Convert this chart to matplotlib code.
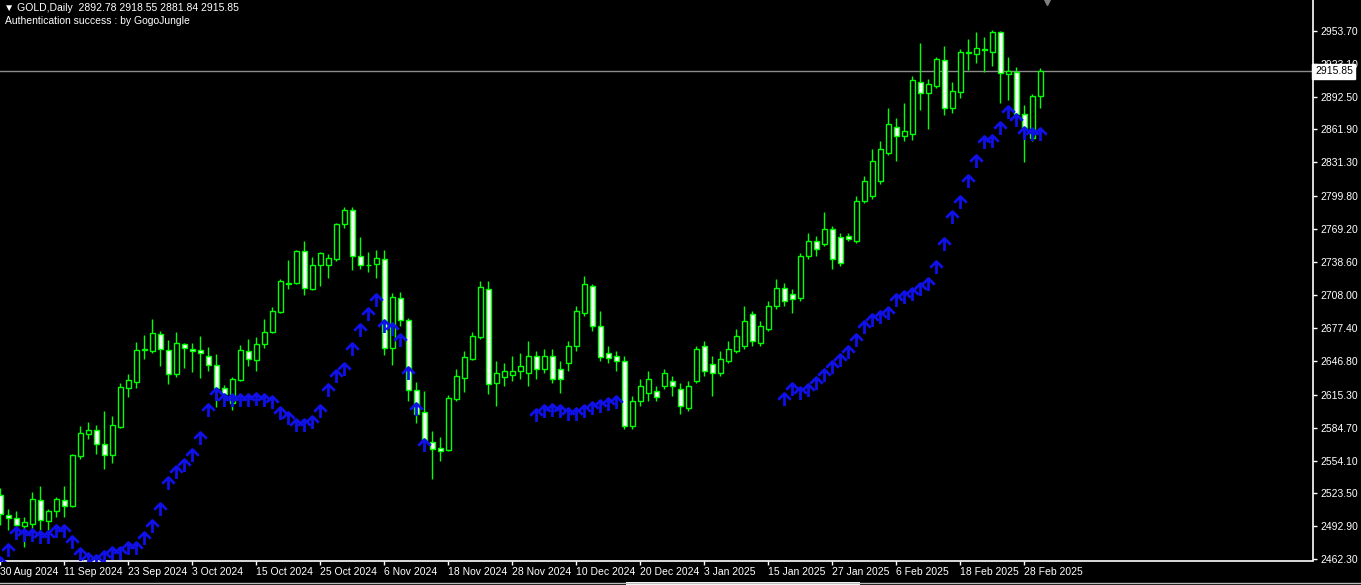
import matplotlib
matplotlib.use("Agg")
import matplotlib.pyplot as plt
import numpy as np
from matplotlib.path import Path
from matplotlib.lines import Line2D
from matplotlib.patches import Rectangle

nan = np.nan

# GOLD daily bars, 30 Aug 2024 .. 3 Mar 2025
opens = [
    2521.7, 2503.2, 2500.4, 2493.2, 2494.8, 2517.1, 2497.6, 2506.8, 2517.1, 2511.5,
    2557.9, 2579.2, 2582.9, 2569.9, 2559.7, 2585.7, 2621.8, 2627.4, 2656.5, 2656.1,
    2671.9, 2657.1, 2634.8, 2662.6, 2658.0, 2657.1, 2651.5, 2643.2, 2621.8, 2607.9,
    2629.3, 2656.1, 2647.8, 2662.6, 2673.8, 2692.3, 2718.5, 2719.2, 2748.9, 2713.6,
    2735.9, 2735.9, 2741.5, 2773.9, 2786.9, 2744.2, 2735.5, 2736.8, 2741.5, 2658.9,
    2705.3, 2684.9, 2620.0, 2599.6, 2571.8, 2566.2, 2564.3, 2611.6, 2631.1, 2648.7,
    2669.1, 2713.6, 2626.5, 2632.0, 2633.9, 2637.6, 2635.7, 2651.5, 2639.5, 2651.5,
    2639.5, 2645.0, 2660.8, 2691.4, 2716.4, 2679.3, 2654.3, 2651.5, 2646.9, 2586.6,
    2609.8, 2617.2, 2619.1, 2623.7, 2628.3, 2620.9, 2603.3, 2628.3, 2660.8, 2644.1,
    2635.7, 2646.9, 2656.2, 2660.8, 2690.5, 2663.6, 2676.5, 2697.9, 2714.6, 2709.0,
    2705.3, 2744.2, 2758.2, 2755.4, 2769.3, 2761.9, 2762.8, 2758.2, 2795.2, 2799.9,
    2813.8, 2839.7, 2863.9, 2855.5, 2857.4, 2905.6, 2895.4, 2901.9, 2926.0, 2881.5,
    2896.3, 2934.3, 2931.6, 2937.1, 2933.4, 2952.0, 2913.0, 2914.9, 2875.9, 2853.7,
    2892.78,
]
highs = [
    2528.2, 2508.7, 2506.8, 2501.3, 2524.5, 2530.0, 2508.7, 2519.8, 2530.0, 2560.6,
    2586.6, 2590.3, 2587.5, 2600.5, 2595.9, 2626.5, 2634.8, 2664.5, 2671.0, 2685.8,
    2674.7, 2666.4, 2673.8, 2663.6, 2663.6, 2670.1, 2659.9, 2653.4, 2624.6, 2632.0,
    2661.7, 2667.3, 2669.1, 2685.8, 2696.9, 2722.9, 2740.5, 2749.8, 2758.2, 2743.3,
    2748.0, 2746.1, 2774.8, 2789.7, 2789.7, 2761.9, 2748.0, 2749.8, 2749.8, 2709.9,
    2710.9, 2686.7, 2627.4, 2619.0, 2582.0, 2576.4, 2615.4, 2639.5, 2656.2, 2673.8,
    2721.1, 2721.1, 2646.9, 2645.0, 2651.5, 2654.3, 2665.4, 2656.2, 2658.0, 2658.0,
    2646.9, 2665.4, 2697.9, 2725.7, 2718.3, 2693.2, 2660.8, 2656.2, 2651.5, 2614.4,
    2630.2, 2637.6, 2623.7, 2639.5, 2633.0, 2626.5, 2628.3, 2660.8, 2665.4, 2651.5,
    2656.2, 2665.4, 2676.5, 2697.9, 2693.2, 2684.0, 2702.5, 2722.9, 2719.2, 2713.6,
    2747.0, 2765.6, 2762.8, 2785.0, 2772.1, 2765.6, 2765.6, 2799.9, 2818.4, 2843.5,
    2850.9, 2881.5, 2872.2, 2886.1, 2911.2, 2941.8, 2908.4, 2928.8, 2939.0, 2905.6,
    2936.2, 2945.5, 2952.9, 2948.2, 2954.7, 2953.8, 2928.8, 2919.5, 2884.3, 2894.5,
    2918.55,
]
lows = [
    2493.9, 2489.2, 2481.8, 2473.5, 2486.4, 2489.2, 2489.2, 2501.3, 2501.3, 2510.5,
    2556.0, 2574.5, 2560.6, 2546.7, 2551.4, 2584.7, 2613.5, 2621.8, 2648.7, 2654.3,
    2642.2, 2625.5, 2632.0, 2640.4, 2636.7, 2631.1, 2637.6, 2604.2, 2607.9, 2601.4,
    2628.3, 2642.2, 2637.6, 2658.9, 2672.8, 2691.4, 2713.6, 2718.3, 2708.1, 2712.5,
    2716.4, 2723.8, 2739.6, 2770.2, 2731.3, 2732.2, 2729.4, 2723.8, 2652.4, 2643.2,
    2679.3, 2609.8, 2589.4, 2563.4, 2536.5, 2554.1, 2563.4, 2609.8, 2618.1, 2647.8,
    2667.3, 2616.3, 2605.1, 2623.7, 2628.3, 2630.2, 2623.7, 2630.2, 2635.7, 2626.5,
    2617.2, 2637.6, 2656.2, 2688.6, 2674.7, 2646.9, 2645.0, 2637.6, 2583.8, 2583.8,
    2605.1, 2609.8, 2609.8, 2620.9, 2614.4, 2597.7, 2600.5, 2626.5, 2633.0, 2614.4,
    2633.0, 2645.0, 2654.3, 2658.0, 2660.8, 2660.8, 2674.7, 2695.1, 2697.9, 2691.4,
    2702.5, 2741.5, 2744.2, 2753.5, 2732.2, 2735.0, 2758.2, 2756.3, 2793.4, 2797.1,
    2811.0, 2837.9, 2832.3, 2850.9, 2851.8, 2879.6, 2862.0, 2900.0, 2875.0, 2876.8,
    2890.8, 2916.7, 2923.2, 2914.9, 2920.4, 2886.1, 2888.9, 2869.4, 2831.4, 2850.9,
    2881.84,
]
closes = [
    2504.1, 2500.4, 2493.9, 2496.7, 2518.0, 2498.5, 2506.8, 2518.0, 2511.5, 2559.7,
    2580.1, 2582.9, 2569.9, 2559.7, 2587.5, 2622.8, 2629.3, 2657.1, 2657.5, 2672.8,
    2658.0, 2634.8, 2663.6, 2658.9, 2656.1, 2654.3, 2643.2, 2621.8, 2616.3, 2630.2,
    2657.1, 2648.7, 2662.6, 2673.8, 2693.2, 2721.1, 2719.5, 2748.9, 2714.6, 2735.9,
    2747.0, 2742.4, 2773.9, 2786.9, 2744.2, 2735.9, 2736.3, 2742.4, 2658.9, 2706.2,
    2684.9, 2620.0, 2597.7, 2572.7, 2565.3, 2563.4, 2612.6, 2633.0, 2650.6, 2670.1,
    2715.5, 2625.5, 2635.7, 2637.6, 2637.6, 2642.2, 2651.5, 2639.5, 2651.5, 2630.2,
    2630.2, 2660.8, 2693.2, 2718.3, 2679.3, 2650.6, 2649.7, 2646.9, 2586.6, 2609.8,
    2623.7, 2630.2, 2613.5, 2635.7, 2623.7, 2605.1, 2623.7, 2658.0, 2637.6, 2635.7,
    2648.7, 2658.0, 2670.1, 2684.0, 2665.4, 2679.3, 2697.9, 2714.6, 2702.5, 2704.4,
    2744.2, 2758.2, 2750.7, 2769.3, 2741.5, 2737.7, 2760.0, 2795.2, 2813.8, 2832.3,
    2843.5, 2866.6, 2855.5, 2860.2, 2907.4, 2895.4, 2903.7, 2926.9, 2881.5, 2897.2,
    2934.3, 2932.5, 2938.0, 2935.3, 2952.0, 2913.9, 2915.8, 2875.9, 2862.9, 2892.6,
    2915.85,
]
# indicator arrows (nan = no signal)
arrows = [
    2464.2, 2476.2, 2492.0, 2490.2, 2490.2, 2488.3, 2488.3, 2493.9, 2493.9, 2483.7,
    2472.5, 2467.9, 2466.1, 2469.8, 2473.5, 2473.5, 2478.1, 2478.1, 2487.4, 2498.5,
    2514.3, 2538.4, 2548.6, 2556.0, 2565.3, 2581.0, 2607.0, 2621.8, 2616.3, 2616.3,
    2616.3, 2616.3, 2617.2, 2616.3, 2614.4, 2604.2, 2599.6, 2593.1, 2593.1, 2595.9,
    2606.1, 2625.5, 2638.5, 2645.0, 2663.6, 2681.2, 2696.0, 2709.0, 2684.9, 2682.1,
    2671.9, 2641.3, 2607.9, 2574.5, nan, nan, nan, nan, nan, nan,
    nan, nan, nan, nan, nan, nan, nan, 2602.4, 2606.1, 2607.0,
    2606.1, 2603.3, 2603.3, 2606.1, 2608.9, 2610.7, 2612.6, 2614.4, nan, nan,
    nan, nan, nan, nan, nan, nan, nan, nan, nan, nan,
    nan, nan, nan, nan, nan, nan, nan, nan, 2617.2, 2626.5,
    2622.8, 2625.5, 2632.0, 2639.5, 2646.9, 2653.4, 2660.8, 2671.9, 2684.0, 2690.5,
    2693.2, 2696.9, 2709.0, 2711.8, 2714.6, 2719.2, 2723.8, 2739.6, 2760.9, 2786.0,
    2799.9, 2819.4, 2837.9, 2855.5, 2856.4, 2868.5, 2883.3, 2875.9, 2863.9, 2862.9,
    2862.9,
]
date_labels = [
    "30 Aug 2024", "11 Sep 2024", "23 Sep 2024", "3 Oct 2024", "15 Oct 2024",
    "25 Oct 2024", "6 Nov 2024", "18 Nov 2024", "28 Nov 2024", "10 Dec 2024",
    "20 Dec 2024", "3 Jan 2025", "15 Jan 2025", "27 Jan 2025", "6 Feb 2025",
    "18 Feb 2025", "28 Feb 2025",
]
price_ticks = [
    2953.70, 2923.10, 2892.50, 2861.90, 2831.30, 2799.80, 2769.20, 2738.60,
    2708.00, 2677.40, 2646.80, 2615.30, 2584.70, 2554.10, 2523.50, 2492.90,
    2462.30,
]
symbol = "GOLD,Daily"
info_line = "Authentication success : by GogoJungle"

GREEN = "#00FF00"
BLUE = "#1010E8"
FONT = ["Liberation Sans", "DejaVu Sans"]


def arrow_marker() -> Path:
    """Up arrow with its tip at the marker origin."""
    verts = [(0, 0), (0, -1), (-0.5, -0.5), (0, 0), (0.5, -0.5)]
    codes = [Path.MOVETO, Path.LINETO, Path.MOVETO, Path.LINETO, Path.LINETO]
    return Path(verts, codes)


def draw_candles(ax, o, h, l, c) -> None:
    x = np.arange(len(o))
    o, h, l, c = map(np.asarray, (o, h, l, c))
    ax.vlines(x, l, h, color=GREEN, linewidth=1.0, zorder=2)
    bottom = np.minimum(o, c)
    height = np.abs(c - o)
    face = np.where(c >= o, "black", "white")
    ax.bar(x, height, bottom=bottom, width=0.6, color=face,
           edgecolor=GREEN, linewidth=1.0, zorder=3)


def chart() -> None:
    fig = plt.figure(figsize=(13.61, 5.85), dpi=100, facecolor="black")
    ax = fig.add_axes([0, 1 - 560.5 / 585, 1313 / 1361, 560.5 / 585])
    ax.set_facecolor("black")

    n = len(opens)
    draw_candles(ax, opens, highs, lows, closes)
    ax.plot(np.arange(n), arrows, linestyle="none", marker=arrow_marker(),
            markersize=18, markeredgecolor=BLUE, markerfacecolor="none",
            markeredgewidth=2.0, zorder=4)

    last = closes[-1]
    ax.axhline(last, color="#8C8C8C", linewidth=1.0, zorder=1)

    ax.set_xlim(-0.3 / 8, (1313 - 0.3) / 8)
    ax.set_ylim(2461.2, 2982.2)

    for side in ("top", "left"):
        ax.spines[side].set_visible(False)
    for side in ("right", "bottom"):
        ax.spines[side].set_color("white")
        ax.spines[side].set_linewidth(1.2)

    ax.yaxis.tick_right()
    ax.set_yticks(price_ticks)
    ax.set_yticklabels([f"{p:.2f}" for p in price_ticks])
    ax.tick_params(axis="y", colors="white", length=3, width=1, pad=2,
                   labelsize=7.5)
    ax.set_xticks(np.arange(len(date_labels)) * 8)
    ax.set_xticklabels(date_labels)
    ax.tick_params(axis="x", colors="white", length=3, width=1, pad=2,
                   labelsize=7.5)
    for lab in ax.get_xticklabels() + ax.get_yticklabels():
        lab.set_family(FONT)
    for lab in ax.get_xticklabels():
        lab.set_horizontalalignment("left")

    ax.text(1.0015, last, f"{last:.2f}", transform=ax.get_yaxis_transform(),
            ha="left", va="center", fontsize=7.5, family=FONT, color="black",
            bbox=dict(boxstyle="square,pad=0.25", facecolor="white",
                      edgecolor="white"), zorder=10)

    # chart shift marker
    ax.plot([n - 1 + 0.85], [2982.2 - 2.0], marker="v", markersize=4.5,
            color="#808080", clip_on=False, zorder=5)

    head = f"\u25bc {symbol}  " + " ".join(
        f"{v:.2f}" for v in (opens[-1], highs[-1], lows[-1], closes[-1]))
    fig.text(4 / 1361, 1 - 8 / 585, head, color="white", fontsize=7.5,
             family=FONT, va="center", ha="left")
    fig.text(5 / 1361, 1 - 21 / 585, info_line, color="white", fontsize=7.5,
             family=FONT, va="center", ha="left")

    fig.add_artist(Line2D([0, 1], [1 - 583 / 585] * 2, color="#BBBBBB",
                          linewidth=1, transform=fig.transFigure))
    fig.add_artist(Rectangle((626 / 1361, 0), 234 / 1361, 3 / 585,
                             facecolor="white", edgecolor="none",
                             transform=fig.transFigure))

    fig.savefig("out.png", dpi=100, facecolor="black")


if __name__ == "__main__":
    chart()
